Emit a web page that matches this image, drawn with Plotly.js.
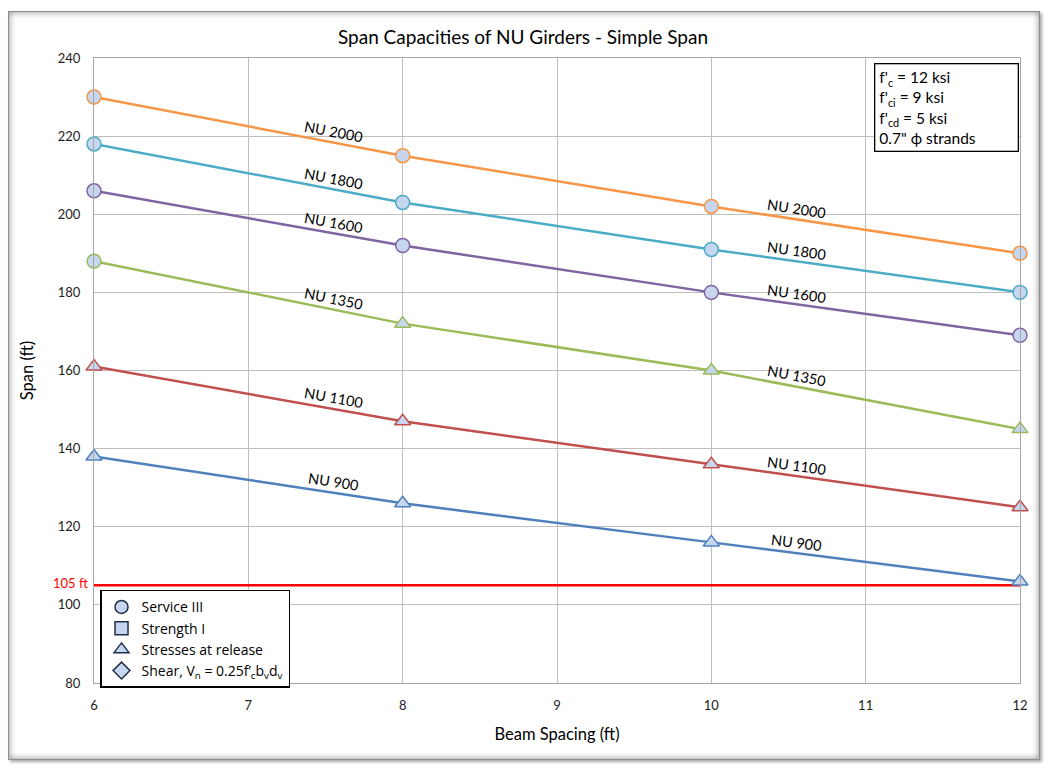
<!DOCTYPE html>
<html>
<head>
<meta charset="utf-8">
<script src="https://cdn.plot.ly/plotly-3.0.1.min.js"></script>
<style>
  html, body { margin: 0; padding: 0; background: #ffffff; }
  #frame { position: absolute; left: 8px; top: 11px; width: 1030px; height: 747px;
           border: 1px solid #8c8c8c; box-shadow: inset 0 0 7px rgba(0,0,0,0.45), 2px 2px 3px rgba(0,0,0,0.35); background: #ffffff; }
  #chart { position: absolute; left: 0; top: 0; width: 1046px; height: 772px; }
</style>
</head>
<body>
<div id="frame"></div>
<div id="chart"></div>
<script>
// ---- data ----
const spacing = [6, 8, 10, 12];
const nu2000 = [230, 215, 202, 190];
const nu1800 = [218, 203, 191, 180];
const nu1600 = [206, 192, 180, 169];
const nu1350 = [188, 172, 160, 145];
const nu1100 = [161, 147, 136, 125];
const nu900  = [138, 126, 116, 106];
const seriesNames = ["NU 2000", "NU 1800", "NU 1600", "NU 1350", "NU 1100", "NU 900"];
const limitSpan = 105;
const limitLabel = "105 ft";
const xTicks = [6, 7, 8, 9, 10, 11, 12];
const yTicks = [80, 100, 120, 140, 160, 180, 200, 220, 240];
const legendNames = ["Service III", "Strength I", "Stresses at release",
  "Shear, V<sub>n</sub> = 0.25f\u2019<sub>c</sub>b<sub>v</sub>d<sub>v</sub>"];
const labelXs = [7.55, 10.55];

// ---- styling ----
const colors = ["#F79646", "#4BACC6", "#8064A2", "#9BBB59", "#C0504D", "#4F81BD"];
const symbols = [
  ["circle","circle","circle","circle"],
  ["circle","circle","circle","circle"],
  ["circle","circle","circle","circle"],
  ["circle","triangle-up","triangle-up","triangle-up"],
  ["triangle-up","triangle-up","triangle-up","triangle-up"],
  ["triangle-up","triangle-up","triangle-up","triangle-up"]
];
const allSeries = [nu2000, nu1800, nu1600, nu1350, nu1100, nu900];
const fillColor = "#c6d6ef";
const FONT = "Lato, 'Open Sans', sans-serif";

const traces = [];
traces.push({
  x: [spacing[0], spacing[spacing.length-1]], y: [limitSpan, limitSpan],
  mode: "lines", line: {color: "#ff0000", width: 2.5}, showlegend: false, hoverinfo: "skip", cliponaxis: false
});
allSeries.forEach((ys, i) => {
  traces.push({
    x: spacing, y: ys, name: seriesNames[i], mode: "lines+markers", showlegend: false, cliponaxis: false,
    line: {color: colors[i], width: 2.5},
    marker: {symbol: symbols[i], size: 14, color: fillColor, line: {color: colors[i], width: 1.5}}
  });
});
const legSyms = ["circle", "square", "triangle-up", "diamond"];
legendNames.forEach((n, i) => {
  traces.push({
    x: [null], y: [null], name: n, mode: "markers", showlegend: true,
    marker: {symbol: legSyms[i], size: 13, color: fillColor, line: {color: "#1f2f4a", width: 1.5}}
  });
});

// plot geometry for label rotation
const W = 1046, H = 772, mL = 94, mR = 26, mT = 58, mB = 89;
const pw = W - mL - mR, ph = H - mT - mB;
const xr = [6, 12], yr = [80, 240];
const pxX = pw / (xr[1] - xr[0]), pxY = ph / (yr[1] - yr[0]);

const annotations = [];
allSeries.forEach((ys, i) => {
  labelXs.forEach(lx => {
    let k = 0;
    while (k < spacing.length - 2 && lx > spacing[k+1]) k++;
    const x0 = spacing[k], x1 = spacing[k+1], y0 = ys[k], y1 = ys[k+1];
    const t = (lx - x0) / (x1 - x0);
    const ly = y0 + t * (y1 - y0);
    const ang = Math.atan2((y0 - y1) * pxY, (x1 - x0) * pxX) * 180 / Math.PI;
    annotations.push({
      x: lx, y: ly, xref: "x", yref: "y", text: seriesNames[i], showarrow: false,
      textangle: ang, yshift: 11, font: {family: FONT, size: 14.5, color: "#000"}
    });
  });
});
annotations.push({
  x: 6, y: limitSpan, xref: "x", yref: "y", text: limitLabel, showarrow: false,
  xanchor: "right", xshift: -4, yshift: 2, font: {family: FONT, size: 13, color: "#ff0000"}
});
annotations.push({
  x: 0.842, y: 0.992, xref: "paper", yref: "paper", xanchor: "left", yanchor: "top",
  align: "left", showarrow: false, bordercolor: "#000", borderwidth: 1.3, borderpad: 4,
  bgcolor: "#ffffff", width: 134,
  text: "f'<sub>c</sub> = 12 ksi<br>f'<sub>ci</sub> = 9 ksi<br>f'<sub>cd</sub> = 5 ksi<br>0.7\" \u03d5 strands",
  font: {family: FONT, size: 15.5, color: "#000"}
});

const layout = {
  width: W, height: H, autosize: false,
  margin: {l: mL, r: mR, t: mT, b: mB, pad: 0},
  paper_bgcolor: "rgba(0,0,0,0)", plot_bgcolor: "#ffffff",
  font: {family: FONT, size: 13, color: "#222"},
  title: {text: "Span Capacities of NU Girders - Simple Span", x: 0.5, xanchor: "center", y: 0.952, yanchor: "middle",
          font: {family: FONT, size: 19, color: "#000"}},
  xaxis: {range: xr, tickvals: xTicks, ticktext: xTicks.map(String), showgrid: true, gridcolor: "#bfbfbf", gridwidth: 1,
          zeroline: false, showline: true, linecolor: "#a6a6a6", linewidth: 1, mirror: true, ticks: "", ticklabelstandoff: 10,
          tickfont: {family: FONT, size: 13, color: "#222"},
          title: {text: "Beam Spacing (ft)", standoff: 16, font: {family: FONT, size: 16.5, color: "#000"}}},
  yaxis: {range: yr, tickvals: yTicks, ticktext: yTicks.map(String), showgrid: true, gridcolor: "#bfbfbf", gridwidth: 1,
          zeroline: false, showline: true, linecolor: "#a6a6a6", linewidth: 1, mirror: true, ticks: "", ticklabelstandoff: 10,
          tickfont: {family: FONT, size: 13, color: "#222"},
          title: {text: "Span (ft)", standoff: 20, font: {family: FONT, size: 16.5, color: "#000"}}},
  showlegend: true,
  legend: {x: 0.0065, y: 0.149, xanchor: "left", yanchor: "top", bgcolor: "#ffffff",
           bordercolor: "#000", borderwidth: 1.5, font: {family: "'Open Sans', Lato, sans-serif", size: 14, color: "#000"},
           tracegroupgap: 0, itemwidth: 30},
  annotations: annotations
};
Plotly.newPlot("chart", traces, layout, {displayModeBar: false, staticPlot: true});
</script>
</body>
</html>
